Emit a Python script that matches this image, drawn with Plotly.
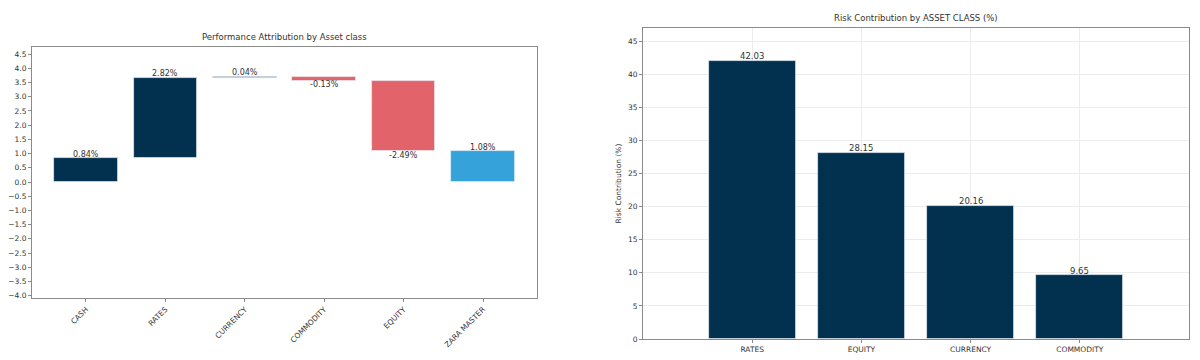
import plotly.graph_objects as go

# ---------------- data ----------------
perf_categories = ["CASH", "RATES", "CURRENCY", "COMMODITY", "EQUITY", "ZARA MASTER"]
perf_values = [0.84, 2.82, 0.04, -0.13, -2.49, 1.08]
perf_is_total = [False, False, False, False, False, True]

risk_categories = ["RATES", "EQUITY", "CURRENCY", "COMMODITY"]
risk_values = [42.03, 28.15, 20.16, 9.65]

perf_yticks = [x / 2 for x in range(-8, 10)]
risk_yticks = list(range(0, 50, 5))

NAVY = "#02304F"
RED = "#E3636A"
BLUE = "#36A2DA"
FONT = "DejaVu Sans"
TXT = "#333333"
SPINE = "#8a8a8a"

# waterfall bases computed from values
bases, heights, colors, labels = [], [], [], []
running = 0.0
for v, tot in zip(perf_values, perf_is_total):
    if tot:
        bases.append(0.0)
        heights.append(v)
        colors.append(BLUE)
        running = v
    else:
        bases.append(running)
        heights.append(v)
        colors.append(NAVY if v >= 0 else RED)
        running += v
    labels.append(f"{v:.2f}%")

fig = go.Figure()

fig.add_trace(go.Bar(
    x=perf_categories, y=heights, base=bases,
    marker=dict(color=colors, line=dict(color="rgba(230,238,245,0.9)", width=0.8)),
    width=0.8,
    xaxis="x", yaxis="y", showlegend=False, hoverinfo="skip",
))

fig.add_trace(go.Bar(
    x=risk_categories, y=risk_values,
    marker=dict(color=NAVY, line=dict(color="rgba(230,238,245,0.9)", width=0.8)),
    width=0.8,
    xaxis="x2", yaxis="y2", showlegend=False, hoverinfo="skip",
))

W, H = 1200, 360
L1, R1, T1, B1 = 32, 537, 47, 298
L2, R2, T2, B2 = 643, 1189, 28, 339

axis_common = dict(
    showline=True, linecolor=SPINE, linewidth=1, mirror=True,
    ticks="outside", ticklen=3, tickcolor=SPINE,
    tickfont=dict(family=FONT, size=7.5, color=TXT),
    zeroline=False, automargin=False,
)

annotations = [
    dict(text="Performance Attribution by Asset class", x=(L1 + R1) / 2 / W,
         y=1 - (T1 - 3) / H, xref="paper", yref="paper",
         xanchor="center", yanchor="bottom", showarrow=False,
         font=dict(family=FONT, size=8.5, color=TXT)),
    dict(text="Risk Contribution by ASSET CLASS (%)", x=(L2 + R2) / 2 / W,
         y=1 - (T2 - 3) / H, xref="paper", yref="paper",
         xanchor="center", yanchor="bottom", showarrow=False,
         font=dict(family=FONT, size=8.5, color=TXT)),
    dict(text="Risk Contribution (%)", x=618 / W, y=1 - ((T2 + B2) / 2) / H,
         xref="paper", yref="paper", xanchor="center", yanchor="middle",
         textangle=-90, showarrow=False,
         font=dict(family=FONT, size=7.5, color=TXT)),
]

# value labels for the waterfall (above positive bars, below negative bars)
for cat, b, h, lab in zip(perf_categories, bases, heights, labels):
    end = b + h
    annotations.append(dict(
        text=lab, x=cat, y=end, xref="x", yref="y", showarrow=False,
        xanchor="center", yanchor="bottom" if h >= 0 else "top",
        yshift=-1.5 if h >= 0 else 1.5, borderpad=0,
        font=dict(family=FONT, size=8, color=TXT)))

for cat, v in zip(risk_categories, risk_values):
    annotations.append(dict(
        text=f"{v:.2f}", x=cat, y=v, xref="x2", yref="y2", showarrow=False,
        xanchor="center", yanchor="bottom", yshift=-1.5, borderpad=0,
        font=dict(family=FONT, size=8.5, color=TXT)))

fig.update_layout(
    width=W, height=H,
    margin=dict(l=0, r=0, t=0, b=0, autoexpand=False),
    paper_bgcolor="white", plot_bgcolor="white",
    bargap=0,
    xaxis=dict(domain=[L1 / W, R1 / W], anchor="y", type="category",
               range=[-0.68, 5.68], tickangle=-45, showgrid=False, **axis_common),
    yaxis=dict(domain=[1 - B1 / H, 1 - T1 / H], anchor="x",
               range=[-4.08, 4.75], tickvals=perf_yticks,
               ticktext=[f"{t:.1f}".replace("-", "\u2212") for t in perf_yticks],
               showgrid=False, **axis_common),
    xaxis2=dict(domain=[L2 / W, R2 / W], anchor="y2", type="category",
                range=[-1, 4], tickangle=0, showgrid=True,
                gridcolor="#ececec", gridwidth=1, **axis_common),
    yaxis2=dict(domain=[1 - B2 / H, 1 - T2 / H], anchor="x2",
                range=[0, 47], tickvals=risk_yticks, showgrid=True,
                gridcolor="#ececec", gridwidth=1, **axis_common),
    annotations=annotations,
)

fig.write_html("out.html")
